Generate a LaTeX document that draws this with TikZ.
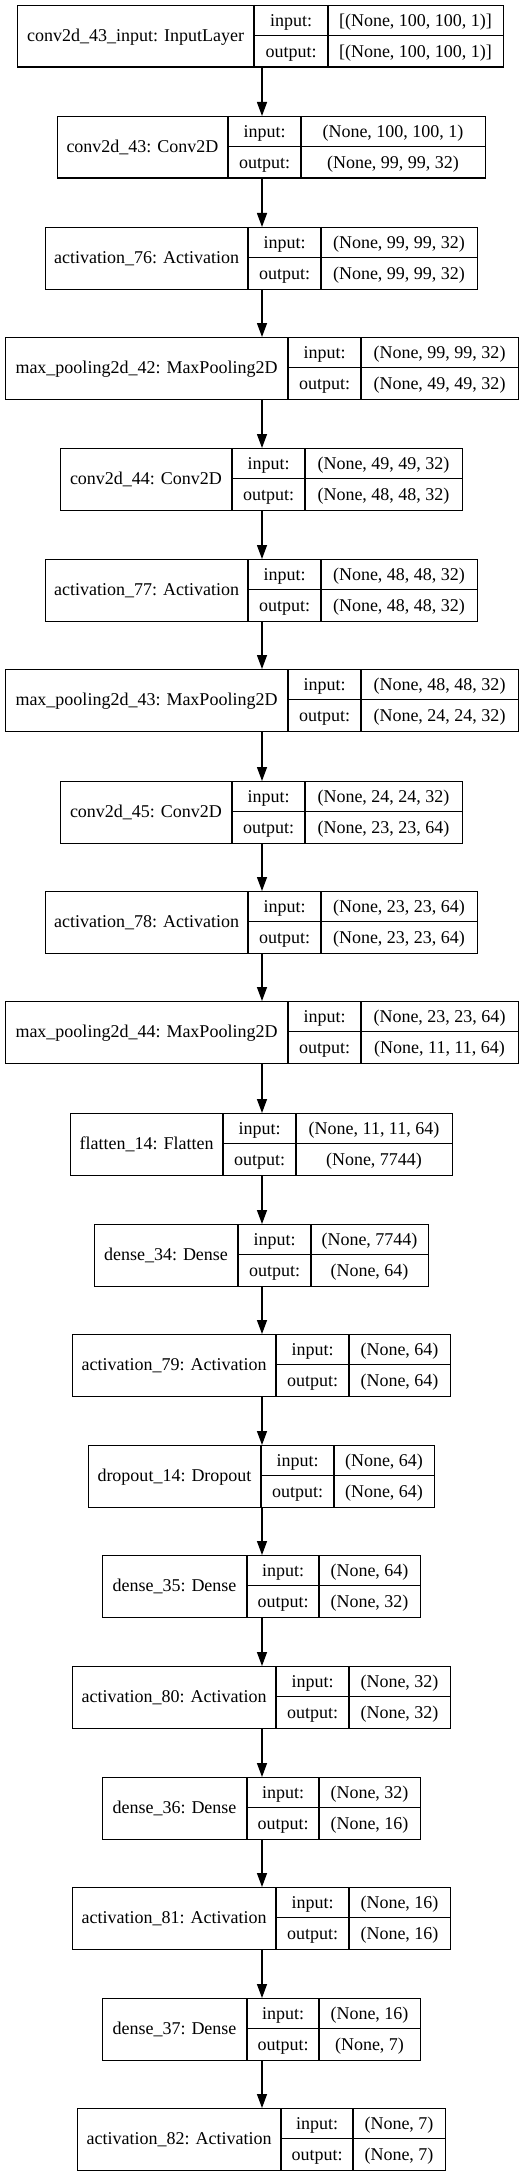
\documentclass[tikz,border=0pt]{standalone}
\usepackage{fontspec}
\setmainfont{Liberation Serif}
\usetikzlibrary{arrows.meta}
\tikzset{
  boxframe/.style={draw=black, line width=1pt, inner sep=0pt, anchor=north west},
  cellline/.style={draw=black, line width=1pt},
  txt/.style={inner sep=0pt, text height=11.5pt, text depth=2.5pt, font=\fontsize{13.5pt}{16pt}\selectfont},
  conn/.style={draw=black, line width=1pt, -{Triangle[length=10.5pt, width=7.5pt]}}
}
% #1 name, #2 left, #3 first divider, #4 second divider, #5 right, #6 top, #7 label, #8 input, #9 output
\newcommand{\layerbox}[9]{%
  \node[boxframe, minimum width={(#5-#2)*0.75pt}, minimum height=46.125pt] (#1) at (#2,#6) {};
  \draw[cellline] (#3,#6) -- (#3,{#6+61.5});
  \draw[cellline] (#4,#6) -- (#4,{#6+61.5});
  \draw[cellline] (#3,{#6+30.75}) -- (#5,{#6+30.75});
  \node[txt] (#1lab) at ({(#2+#3)/2},{#6+30.75}) {#7};
  \node[txt] (#1ik) at ({(#3+#4)/2},{#6+15.4}) {input:};
  \node[txt] (#1ok) at ({(#3+#4)/2},{#6+46.1}) {output:};
  \node[txt] (#1iv) at ({(#4+#5)/2},{#6+15.4}) {#8};
  \node[txt] (#1ov) at ({(#4+#5)/2},{#6+46.1}) {#9};
}
\begin{document}
\begin{tikzpicture}[x=0.75pt,y=-0.75pt]
\useasboundingbox (0,0) rectangle (527,2176);
\fill[white] (0,0) rectangle (527,2176);
\coordinate (ax) at (262,0);
\layerbox{b0}{17}{254}{328}{503}{5}{conv2d\_43\_input: InputLayer}{[(None, 100, 100, 1)]}{[(None, 100, 100, 1)]}
\layerbox{b1}{57}{228}{301}{485}{116}{conv2d\_43: Conv2D}{(None, 100, 100, 1)}{(None, 99, 99, 32)}
\layerbox{b2}{45}{248}{321}{477}{227}{activation\_76: Activation}{(None, 99, 99, 32)}{(None, 99, 99, 32)}
\layerbox{b3}{5}{288}{361}{518}{337}{max\_pooling2d\_42: MaxPooling2D}{(None, 99, 99, 32)}{(None, 49, 49, 32)}
\layerbox{b4}{60}{232}{305}{462}{448}{conv2d\_44: Conv2D}{(None, 49, 49, 32)}{(None, 48, 48, 32)}
\layerbox{b5}{45}{248}{321}{477}{559}{activation\_77: Activation}{(None, 48, 48, 32)}{(None, 48, 48, 32)}
\layerbox{b6}{5}{288}{361}{518}{669}{max\_pooling2d\_43: MaxPooling2D}{(None, 48, 48, 32)}{(None, 24, 24, 32)}
\layerbox{b7}{60}{232}{305}{462}{781}{conv2d\_45: Conv2D}{(None, 24, 24, 32)}{(None, 23, 23, 64)}
\layerbox{b8}{45}{248}{321}{477}{891}{activation\_78: Activation}{(None, 23, 23, 64)}{(None, 23, 23, 64)}
\layerbox{b9}{5}{288}{361}{518}{1001}{max\_pooling2d\_44: MaxPooling2D}{(None, 23, 23, 64)}{(None, 11, 11, 64)}
\layerbox{b10}{70}{223}{296}{452}{1113}{flatten\_14: Flatten}{(None, 11, 11, 64)}{(None, 7744)}
\layerbox{b11}{94}{238}{311}{428}{1224}{dense\_34: Dense}{(None, 7744)}{(None, 64)}
\layerbox{b12}{72}{276}{349}{450}{1334}{activation\_79: Activation}{(None, 64)}{(None, 64)}
\layerbox{b13}{88}{261}{334}{434}{1445}{dropout\_14: Dropout}{(None, 64)}{(None, 64)}
\layerbox{b14}{102}{247}{319}{420}{1555}{dense\_35: Dense}{(None, 64)}{(None, 32)}
\layerbox{b15}{72}{276}{349}{450}{1666}{activation\_80: Activation}{(None, 32)}{(None, 32)}
\layerbox{b16}{102}{247}{319}{420}{1777}{dense\_36: Dense}{(None, 32)}{(None, 16)}
\layerbox{b17}{72}{276}{349}{450}{1887}{activation\_81: Activation}{(None, 16)}{(None, 16)}
\layerbox{b18}{102}{247}{319}{420}{1998}{dense\_37: Dense}{(None, 16)}{(None, 7)}
\layerbox{b19}{77}{281}{353}{445}{2108}{activation\_82: Activation}{(None, 7)}{(None, 7)}
\foreach \i [evaluate=\i as \j using int(\i+1)] in {0,...,18} {
  \draw[conn] (b\i.south -| ax) -- (b\j.north -| ax);
}
\end{tikzpicture}
\end{document}
